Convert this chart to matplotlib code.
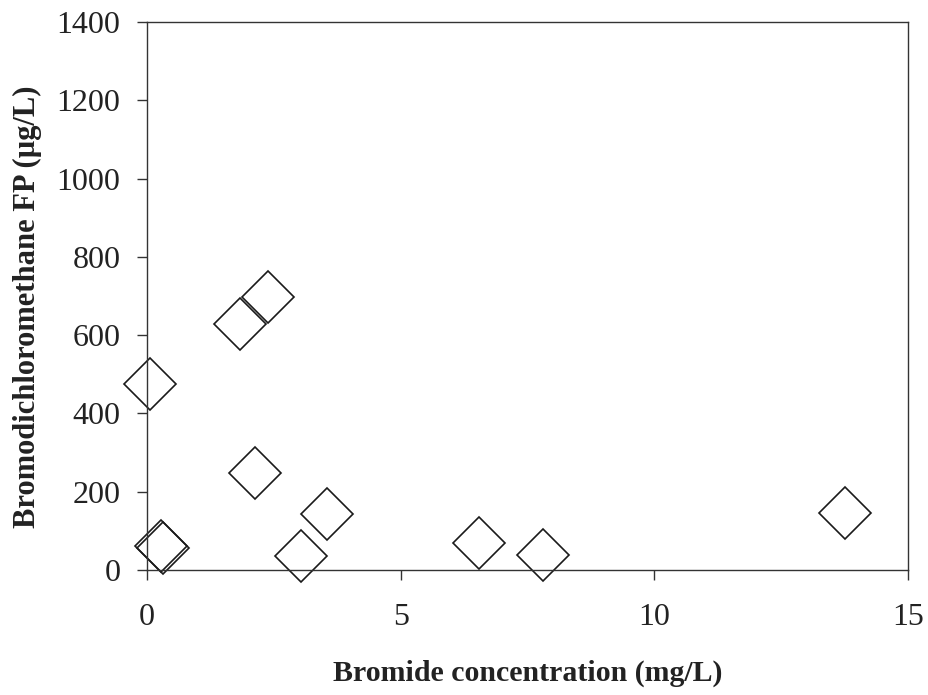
import matplotlib
matplotlib.use("Agg")
import matplotlib.pyplot as plt

bromide = [0.05, 0.28, 0.32, 1.84, 2.39, 2.12, 3.04, 3.54, 6.55, 7.81, 13.76]
bdcm_fp = [474, 60, 55, 629, 698, 249, 35, 144, 70, 38, 146]

x_ticks = [0, 5, 10, 15]
y_ticks = [0, 200, 400, 600, 800, 1000, 1200, 1400]

plt.rcParams['font.family'] = ['Liberation Serif', 'DejaVu Serif']

fig = plt.figure(figsize=(9.29, 6.95), dpi=100)
ax = fig.add_axes([0.1582, 0.1799, 0.8192, 0.7884])

ax.plot(bromide, bdcm_fp, linestyle='none', marker='D', markersize=26.5,
        markerfacecolor='none', markeredgecolor='#1a1a1a', markeredgewidth=1.2,
        clip_on=False)

ax.set_xlim(0, 15)
ax.set_ylim(0, 1400)
ax.set_xticks(x_ticks)
ax.set_yticks(y_ticks)
ax.set_xticklabels([str(v) for v in x_ticks])
ax.set_yticklabels([str(v) for v in y_ticks])

for s in ax.spines.values():
    s.set_color('#333333')
    s.set_linewidth(1.0)

ax.tick_params(axis='x', direction='out', length=7, width=1.0, colors='#333333',
               pad=17, labelsize=23, labelcolor='#222222')
ax.tick_params(axis='y', direction='out', length=7, width=1.0, colors='#333333',
               pad=12, labelsize=23, labelcolor='#222222')

ax.set_xlabel('Bromide concentration (mg/L)', fontsize=21.5, fontweight='bold',
              labelpad=20, color='#222222')
ax.set_ylabel('Bromodichloromethane FP (\u00b5g/L)', fontsize=22, fontweight='bold',
              color='#222222')
ax.yaxis.set_label_coords(-0.138, 0.48)

fig.savefig('out.png', dpi=100)
